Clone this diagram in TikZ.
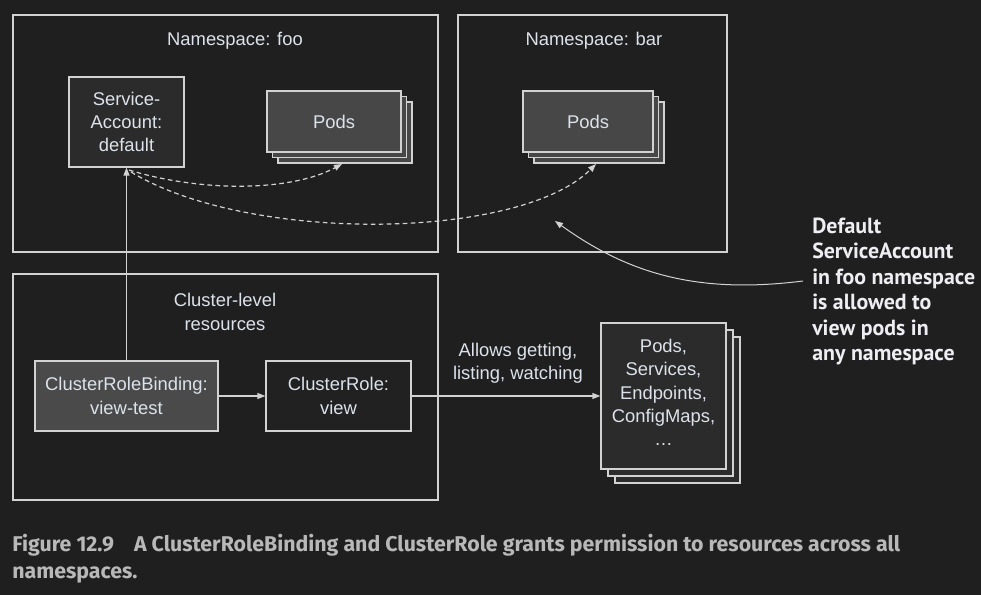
\documentclass[tikz,border=0pt]{standalone}
\usepackage{fontspec}
\setmainfont{Liberation Sans}
\newfontfamily\annfont{PT Sans}
\newfontfamily\capfont{Fira Sans}
\usetikzlibrary{arrows.meta}
\definecolor{bgc}{RGB}{31,31,31}
\definecolor{linec}{RGB}{210,210,210}
\definecolor{txtc}{RGB}{221,226,234}
\definecolor{podfill}{RGB}{71,71,71}
\definecolor{safill}{RGB}{43,43,43}
\definecolor{crbfill}{RGB}{74,74,74}
\definecolor{crfill}{RGB}{33,33,33}
\definecolor{annc}{RGB}{238,238,242}
\definecolor{capc}{RGB}{184,184,184}
\tikzset{
  base/.style={draw=linec, line width=0.9pt, inner sep=0pt, text=txtc,
    font=\fontsize{13.8}{17.5}\selectfont, align=center},
  bigbox/.style={base, fill=bgc},
  sabox/.style={base, fill=safill, minimum width=86.25pt, minimum height=67.5pt},
  podbox/.style={base, fill=podfill, minimum height=45.75pt},
  crbbox/.style={base, fill=crbfill, minimum width=137.25pt, minimum height=52.5pt},
  crbox/.style={base, fill=crfill, minimum width=108.75pt, minimum height=52.5pt},
  resbox/.style={base, fill=safill, minimum width=93.75pt, minimum height=109.5pt},
  lbl/.style={text=txtc, inner sep=0pt, font=\fontsize{13.8}{17.5}\selectfont, align=center},
  conn/.style={draw=linec, line width=0.9pt, -{Triangle[length=6pt,width=4.5pt]}},
  dconn/.style={conn, dash pattern=on 3.5pt off 2.5pt},
  captext/.style={anchor=base west, inner sep=0pt, text=capc, font=\capfont\bfseries\fontsize{16}{19}\selectfont},
}
\begin{document}
\begin{tikzpicture}[x=0.75pt,y=-0.75pt]
\fill[bgc] (0,0) rectangle (981,595);
\useasboundingbox (0,0) rectangle (981,595);
% big boxes
\node[bigbox, minimum width=318.75pt, minimum height=177.75pt] (foo) at (225.5,133.5) {};
\node[bigbox, minimum width=201.75pt, minimum height=177.75pt] (bar) at (592.5,133.5) {};
\node[bigbox, minimum width=318.75pt, minimum height=169.5pt] (cluster) at (225.5,387) {};
\node[lbl] (foolbl) at (235,41) {Namespace: foo};
\node[lbl] (barlbl) at (594,41) {Namespace: bar};
\node[lbl] (clbl) at (225,312) {Cluster-level\\resources};
% service account
\node[sabox] (sa) at (126.5,122) {Service-\\Account:\\default};
% pods foo
\node[podbox, minimum width=100.5pt] (pf3) at (345,132.5) {};
\node[podbox, minimum width=100.5pt] (pf2) at (339.5,127) {};
\node[podbox, minimum width=100.5pt] (pf) at (334,121.5) {Pods};
% pods bar
\node[podbox, minimum width=97.5pt] (pb3) at (599,132.5) {};
\node[podbox, minimum width=97.5pt] (pb2) at (593.5,127) {};
\node[podbox, minimum width=97.5pt] (pb) at (588,121.5) {Pods};
% cluster
\node[crbbox] (crb) at (126.5,396) {ClusterRoleBinding:\\view-test};
\node[crbox] (cr) at (338.5,396) {ClusterRole:\\view};
% resources
\node[resbox] (res3) at (677.5,410) {};
\node[resbox] (res2) at (670.5,403) {};
\node[resbox] (res) at (663.5,396) {};
\node[lbl] (restext) at (663.5,392.5) {Pods,\\Services,\\Endpoints,\\ConfigMaps,\\\ldots};
\node[lbl] (allow) at (518,363) {Allows getting,\\listing, watching};
% connectors
\draw[conn] (crb.north) -- (sa.south);
\draw[conn] (crb.east) -- (cr.west);
\draw[conn] (cr.east) -- (res.west);
\coordinate (sa1) at (129,170);
\coordinate (sa2) at (131,172);
\coordinate (pft) at (342,164);
\coordinate (pbt) at (596,164);
\draw[dconn] (sa1) .. controls (200,192) and (290,192) .. (pft);
\draw[dconn] (sa2) .. controls (250,244) and (520,240) .. (pbt);
% annotation
\node[anchor=north west, inner sep=0pt, text=annc, align=left,
  font=\annfont\bfseries\fontsize{16.4}{19.1}\selectfont] (ann) at (812,217.5)
  {Default\\ServiceAccount\\in foo namespace\\is allowed to\\view pods in\\any namespace};
\coordinate (annstart) at (803,281);
\coordinate (anntip) at (555,221);
\draw[draw=linec, line width=0.75pt, -{Triangle[length=6pt,width=4.5pt]}] (annstart) .. controls (700,294) and (630,275) .. (anntip);
% caption
\node[captext] (cap1) at (12,551)
  {Figure 12.9\hspace{15pt}A ClusterRoleBinding and ClusterRole grants permission to resources across all};
\node[captext] (cap2) at (12,578) {namespaces.};
\end{tikzpicture}
\end{document}
